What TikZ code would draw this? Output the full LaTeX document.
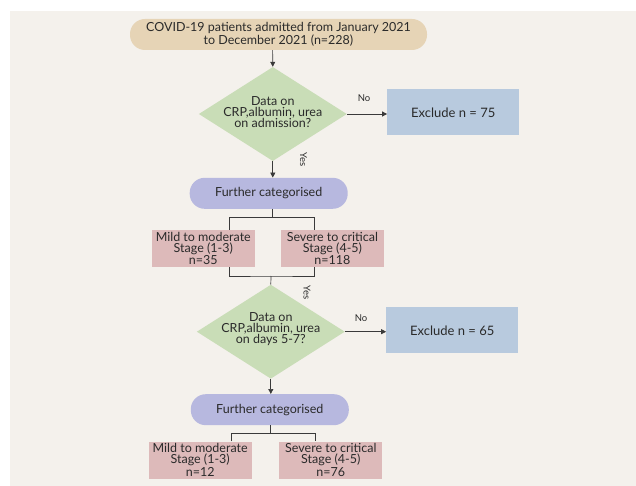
\documentclass[tikz,border=0pt]{standalone}
\usepackage{fontspec}
\setmainfont{Lato}
\usetikzlibrary{shapes.geometric,arrows.meta}
\definecolor{panel}{HTML}{F4F1EC}
\definecolor{tan}{HTML}{E6D4B6}
\definecolor{grn}{HTML}{C9DDB7}
\definecolor{blu}{HTML}{B8CADE}
\definecolor{pur}{HTML}{B7B8DF}
\definecolor{pnk}{HTML}{DDBABA}
\definecolor{txt}{HTML}{2A2A2A}
\definecolor{ln}{HTML}{3A3A3A}
\tikzset{
  base/.style={inner sep=0pt, align=center, text=txt, font=\fontsize{12.5}{11}\selectfont},
  pill/.style={base, rounded corners=15pt},
  startbox/.style={pill, fill=tan, minimum width=297pt, minimum height=31pt},
  catbox/.style={pill, fill=pur, minimum width=158pt, minimum height=31pt},
  decision/.style={base, diamond, fill=grn, minimum width=148pt, minimum height=94pt, aspect=1.57},
  exclbox/.style={base, fill=blu, minimum width=132pt, minimum height=46pt, font=\fontsize{13}{11}\selectfont},
  stagebox/.style={base, fill=pnk, minimum width=103pt, minimum height=37pt},
  conn/.style={draw=ln, line width=0.7pt},
  arr/.style={conn, -{Triangle[length=5pt,width=5pt]}},
  lbl/.style={text=txt, font=\fontsize{9.5}{9}\selectfont, inner sep=0pt},
}
\begin{document}
\begin{tikzpicture}[x=1pt,y=-1pt]
\fill[white] (0,0) rectangle (636,486);
\fill[panel] (10,11) rectangle (636,486);
\useasboundingbox (0,0) rectangle (636,486);

\node[startbox] (start) at (278.5,34.5) {COVID-19 patients admitted from January 2021\\to December 2021 (n=228)};
\node[decision] (d1) at (272.8,114) {};
\node[base] (d1t) at (272.8,112) {Data on\\CRP,albumin, urea\\on admission?};
\node[exclbox] (e1) at (453.3,112.5) {Exclude n = 75};
\node[catbox] (c1) at (268.7,193.3) {Further categorised};
\node[stagebox] (m1) at (203.3,248.3) {Mild to moderate\\Stage (1-3)\\n=35};
\node[stagebox] (s1) at (332.4,248.3) {Severe to critical\\Stage (4-5)\\n=118};
\node[decision] (d2) at (270.8,331.7) {};
\node[base] (d2t) at (270.8,329.5) {Data on\\CRP,albumin, urea\\on days 5-7?};
\node[exclbox] (e2) at (452.3,330.3) {Exclude n = 65};
\node[catbox] (c2) at (269.8,409.7) {Further categorised};
\node[stagebox] (m2) at (200.2,460) {Mild to moderate\\Stage (1-3)\\n=12};
\node[stagebox] (s2) at (330.8,460) {Severe to critical\\Stage (4-5)\\n=76};

% connectors
\draw[arr] (start.south -| 272.6,0) -- (d1.north);
\draw[arr] (d1.east) -- (e1.west |- d1.east);
\node[lbl] (no1) at (364,97.7) {No};
\draw[arr] (d1.south) -- (c1.north -| d1.south);
\node[lbl, rotate=-90] (yes1) at (303.4,159.3) {Yes};

\coordinate (b1) at (272.6,217.3);
\draw[conn] (c1.south -| b1) -- (b1);
\draw[conn] (m1.north -| 229.2,0) |- (b1) -| (s1.north -| 314.4,0);

\coordinate (b2) at (271,276);
\draw[conn] (m1.south -| 229.2,0) |- (b2) -| (s1.south -| 314.4,0);
\draw[conn] (b2) -- (d2.north);
\node[lbl, rotate=-90] (yes2) at (307,292.7) {Yes};

\draw[arr] (d2.east) -- (e2.west |- d2.east);
\node[lbl] (no2) at (361,317.7) {No};
\draw[arr] (d2.south) -- (c2.north -| d2.south);

\coordinate (b3) at (270.6,433.3);
\draw[conn] (c2.south -| b3) -- (b3);
\draw[conn] (m2.north -| 231.2,0) |- (b3) -| (s2.north -| 315.6,0);
\end{tikzpicture}
\end{document}
